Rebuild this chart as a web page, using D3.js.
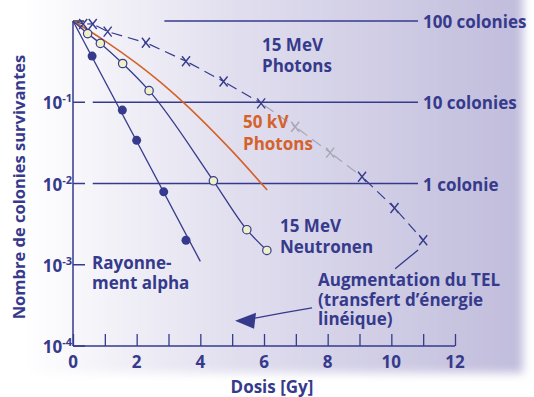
<!DOCTYPE html>
<html>
<head>
<meta charset="utf-8">
<script src="https://cdn.jsdelivr.net/npm/d3@7"></script>
<style>
  body { margin: 0; background: #fff; }
  svg text { font-family: "Open Sans", "Noto Sans", sans-serif; font-weight: 700; }
</style>
</head>
<body>
<svg></svg>
<script>
// survival curves (dose in Gy, surviving fraction)
var alphaDose = [0.6, 1.55, 2.0, 2.85, 3.55];
var alphaSurv = [0.37, 0.08, 0.034, 0.0079, 0.002];
var alphaLine = [[0, 1], [4.0, 0.0011]];

var neutronDose = [0.46, 0.86, 1.56, 2.39, 4.41, 5.46, 6.09];
var neutronSurv = [0.70, 0.53, 0.30, 0.139, 0.0108, 0.0027, 0.0015];

var kv50Dose = [0, 1, 2, 3, 4, 5, 6.1];
var kv50Surv = [1, 0.57, 0.30, 0.145, 0.063, 0.025, 0.0083];

var photonDose = [0.32, 0.62, 1.09, 2.29, 3.55, 4.73, 5.91, 6.98, 8.08, 9.08, 10.1, 11.0];
var photonSurv = [0.92, 0.92, 0.74, 0.54, 0.32, 0.18, 0.097, 0.050, 0.024, 0.0121, 0.0050, 0.0020];
var photonGrey = [false, false, false, false, false, false, false, true, true, false, false, false];

var xTicks = [0, 2, 4, 6, 8, 10, 12];
var yTicks = [1e-1, 1e-2, 1e-3, 1e-4];
var yTickExp = ["-1", "-2", "-3", "-4"];

var refLevels = [1, 0.1, 0.01];
var refLabels = ["100 colonies", "10 colonies", "1 colonie"];
var refStart = [2.87, 0.62, 0.62];

// arrow "Augmentation du TEL"
var arrowUpper = [[10.84, 1.52e-3], [10.12, 8.9e-4]];
var arrowLower = [[7.51, 2.95e-4], [5.72, 2.21e-4]];
var arrowTip = [5.09, 2.04e-4];

var width = 534, height = 397;
var blue = "#363a8c", orange = "#d4622a", grey = "#a6a6b4";
var fs = 17;

var svg = d3.select("svg").attr("width", width).attr("height", height);

// lavender background panel
var defs = svg.append("defs");
var grad = defs.append("linearGradient").attr("id", "bg");
grad.append("stop").attr("offset", "0.08").attr("stop-color", "#ffffff");
grad.append("stop").attr("offset", "0.45").attr("stop-color", "#e2e0ef");
grad.append("stop").attr("offset", "1").attr("stop-color", "#c0bcdc");
defs.append("filter").attr("id", "soft")
    .attr("x", "-5%").attr("y", "-5%").attr("width", "110%").attr("height", "110%")
  .append("feGaussianBlur").attr("stdDeviation", 5);
svg.append("rect")
    .attr("x", -20).attr("y", -20).attr("width", 543).attr("height", 393)
    .attr("fill", "url(#bg)").attr("filter", "url(#soft)");

var x = d3.scaleLinear().domain([0, 12]).range([73, 455]);
var y = d3.scaleLog().domain([1e-4, 1]).range([346, 21]);

// axes
var xAxis = d3.axisBottom(x).tickValues(xTicks.concat([1, 3, 5, 7, 9, 11])).tickSize(-12).tickFormat("");
var gx = svg.append("g").attr("transform", "translate(0,346)").call(xAxis);
gx.select(".domain").attr("stroke", blue).attr("stroke-width", 1.5).attr("d", "M73,0H455");
gx.selectAll(".tick line").attr("stroke", blue).attr("stroke-width", 1.3);

svg.append("line")
    .attr("x1", x(0)).attr("x2", x(0)).attr("y1", y(1)).attr("y2", y(1e-4))
    .attr("stroke", blue).attr("stroke-width", 1.5);
svg.append("line")
    .attr("x1", x(0)).attr("x2", x(0.35)).attr("y1", y(1)).attr("y2", y(1))
    .attr("stroke", "#333").attr("stroke-width", 1.5);

svg.selectAll(".ytick").data(yTicks).enter().append("line")
    .attr("x1", x(0)).attr("x2", x(0) + 12)
    .attr("y1", d => y(d)).attr("y2", d => y(d))
    .attr("stroke", blue).attr("stroke-width", 1.5);

svg.selectAll(".xlab").data(xTicks).enter().append("text")
    .attr("x", d => x(d)).attr("y", 368)
    .attr("text-anchor", "middle").attr("font-size", fs).attr("fill", blue)
    .text(d => d);

var ylab = svg.selectAll(".ylab").data(yTicks).enter().append("text")
    .attr("x", 72).attr("y", d => y(d) + 7)
    .attr("text-anchor", "end").attr("font-size", fs).attr("fill", blue);
ylab.append("tspan").text("10");
ylab.append("tspan").attr("dy", -7).attr("font-size", 11).text((d, i) => yTickExp[i]);

svg.append("text")
    .attr("transform", "translate(25,187) rotate(-90)")
    .attr("text-anchor", "middle").attr("font-size", 16.5).attr("fill", blue)
    .text("Nombre de colonies survivantes");
svg.append("text")
    .attr("x", 272).attr("y", 393)
    .attr("text-anchor", "middle").attr("font-size", fs).attr("fill", blue)
    .text("Dosis [Gy]");

// reference lines
svg.selectAll(".ref").data(refLevels).enter().append("line")
    .attr("x1", (d, i) => x(refStart[i])).attr("x2", 418)
    .attr("y1", d => y(d)).attr("y2", d => y(d))
    .attr("stroke", blue).attr("stroke-width", 1.5);
svg.selectAll(".reflab").data(refLevels).enter().append("text")
    .attr("x", 423).attr("y", d => y(d) + 7)
    .attr("font-size", fs).attr("fill", blue)
    .text((d, i) => refLabels[i]);

var line = d3.line().x(d => x(d[0])).y(d => y(d[1]));
var curve = d3.line().x(d => x(d[0])).y(d => y(d[1])).curve(d3.curveMonotoneX);

// 50 kV photons
svg.append("path")
    .attr("d", curve(kv50Dose.map((d, i) => [d, kv50Surv[i]])))
    .attr("fill", "none").attr("stroke", orange).attr("stroke-width", 1.6);

// 15 MeV photons, dashed; the stretch under the "50 kV" label is grey
var photonPts = [[0, 1]].concat(photonDose.map((d, i) => [d, photonSurv[i]]));
for (var i = 1; i < photonPts.length; i++) {
  var segGrey = photonGrey[i - 1] || photonGrey[i - 2];
  svg.append("path")
      .attr("d", line([photonPts[i - 1], photonPts[i]]))
      .attr("fill", "none")
      .attr("stroke", segGrey ? grey : blue).attr("stroke-width", 1.2)
      .attr("stroke-dasharray", "11,6").attr("stroke-dashoffset", -4);
}
svg.selectAll(".xmark").data(photonDose).enter().append("path")
    .attr("transform", (d, i) => `translate(${x(d)},${y(photonSurv[i])})`)
    .attr("d", "M-4,-5L4,5M4,-5L-4,5")
    .attr("fill", "none").attr("stroke-width", 1.4)
    .attr("stroke", (d, i) => photonGrey[i] ? grey : blue);

// neutrons
svg.append("path")
    .attr("d", curve([[0, 1]].concat(neutronDose.map((d, i) => [d, neutronSurv[i]]))))
    .attr("fill", "none").attr("stroke", blue).attr("stroke-width", 1.3);
svg.selectAll(".nmark").data(neutronDose).enter().append("circle")
    .attr("cx", d => x(d)).attr("cy", (d, i) => y(neutronSurv[i]))
    .attr("r", 4.2).attr("fill", "#eef0c6").attr("stroke", blue).attr("stroke-width", 1.2);

// alpha
svg.append("path")
    .attr("d", line(alphaLine))
    .attr("fill", "none").attr("stroke", blue).attr("stroke-width", 1.3);
svg.selectAll(".amark").data(alphaDose).enter().append("circle")
    .attr("cx", d => x(d)).attr("cy", (d, i) => y(alphaSurv[i]))
    .attr("r", 4.5).attr("fill", blue);

// annotation arrow
svg.append("path")
    .attr("d", curve(arrowUpper.slice().reverse()))
    .attr("fill", "none").attr("stroke", blue).attr("stroke-width", 1.3);
svg.append("path")
    .attr("d", d3.line().x(d => x(d[0])).y(d => y(d[1])).curve(d3.curveNatural)(
      [arrowLower[0], [6.6, 2.55e-4], arrowLower[1]]))
    .attr("fill", "none").attr("stroke", blue).attr("stroke-width", 1.3);
var tx = x(arrowTip[0]), ty = y(arrowTip[1]);
svg.append("path")
    .attr("d", `M${tx},${ty}L${tx + 21},${ty - 8}L${tx + 19},${ty + 8}Z`)
    .attr("fill", blue);

// labels
function label(lines, lx, ly, color, gap) {
  var t = svg.append("text").attr("x", lx).attr("y", ly)
      .attr("font-size", fs).attr("fill", color);
  lines.forEach((s, i) => t.append("tspan").attr("x", lx).attr("dy", i ? gap : 0).text(s));
}
label(["15 MeV", "Photons"], 262, 51, blue, 21);
label(["50 kV", "Photons"], 243, 128, orange, 22);
label(["15 MeV", "Neutronen"], 280, 232, blue, 21);
label(["Rayonne-", "ment alpha"], 92, 269, blue, 20);
label(["Augmentation du TEL", "(transfert d\u2019énergie", "linéique)"], 318, 286, blue, 19.5);
</script>
</body>
</html>
